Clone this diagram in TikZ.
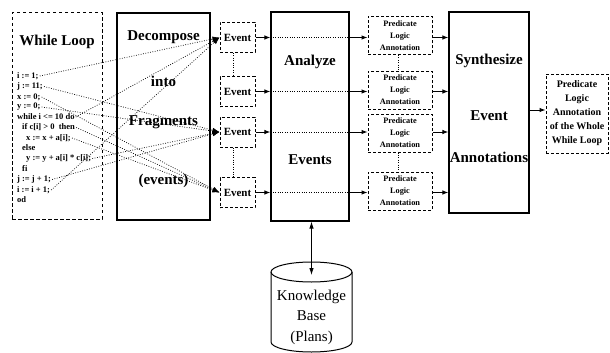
\documentclass[tikz,border=0pt]{standalone}
\usepackage{fontspec}
\setmainfont{Liberation Serif}
\usetikzlibrary{arrows.meta}
\begin{document}
\begin{tikzpicture}[x=1pt,y=-1pt,
  solidbox/.style={draw, line width=1.1pt, inner sep=0pt},
  dashbox/.style={draw, line width=1pt, dash pattern=on 3pt off 2pt, inner sep=0pt},
  biglabel/.style={font=\fontsize{15}{18}\selectfont\bfseries, inner sep=0pt},
  evbox/.style={dashbox, minimum width=35pt, minimum height=30pt, font=\fontsize{11}{13}\selectfont\bfseries},
  predbox/.style={dashbox, minimum width=64pt, minimum height=38pt, align=center, font=\fontsize{8.3}{12}\selectfont\bfseries},
  code/.style={anchor=west, inner sep=1pt, font=\fontsize{8.5}{10}\selectfont\bfseries},
  dotline/.style={line width=0.7pt, dash pattern=on 0.8pt off 1.6pt},
  dotarrow/.style={dotline, -{Latex[length=7pt,width=5pt]}},
  solidarrow/.style={line width=1pt, -{Latex[length=6pt,width=4.5pt]}},
  kbarrow/.style={line width=0.8pt, {Latex[length=7pt,width=4.5pt]}-{Latex[length=7pt,width=4.5pt]}}
]
\useasboundingbox (0,0) rectangle (610,353);

% main stage boxes
\node[dashbox, dash pattern=on 3.5pt off 2.5pt, minimum width=90pt, minimum height=206pt] (wl) at (57,116) {};
\node[solidbox, minimum width=93pt, minimum height=207pt] (dec) at (163.5,116.5) {};
\node[solidbox, minimum width=78pt, minimum height=209pt] (ana) at (310,116.5) {};
\node[solidbox, minimum width=80pt, minimum height=201pt] (syn) at (489,112.5) {};

% stage labels
\node[biglabel] (wlt) at (57,42) {While Loop};
\node[biglabel] (dl1) at (163.5,37) {Decompose};
\node[biglabel] (dl2) at (163.5,81) {into};
\node[biglabel] (dl3) at (163.5,122) {Fragments};
\node[biglabel] (dl4) at (163.5,181) {(events)};
\node[biglabel] (al1) at (310,62) {Analyze};
\node[biglabel] (al2) at (310,160) {Events};
\node[biglabel] (sl1) at (489,61) {Synthesize};
\node[biglabel] (sl2) at (489,116) {Event};
\node[biglabel] (sl3) at (489,157) {Annotations};

% program text
\node[code] (c1)  at (16,76)    {i := 1;};
\node[code] (c2)  at (16,86.5)  {j := 11;};
\node[code] (c3)  at (16,97)    {x := 0;};
\node[code] (c4)  at (16,107)   {y := 0;};
\node[code] (c5)  at (16,117)   {while i <= 10 do};
\node[code] (c6)  at (21,127.5) {if c[i] > 0 \ then};
\node[code] (c7)  at (25,138)   {x := x + a[i];};
\node[code] (c8)  at (21,148)   {else};
\node[code] (c9)  at (25,158.5) {y := y + a[i] * c[i];};
\node[code] (c10) at (21,169)   {fi};
\node[code] (c11) at (16,179.5) {j := j + 1;};
\node[code] (c12) at (16,190)   {i := i + 1;};
\node[code] (c13) at (16,200)   {od};

% event fragments
\node[evbox] (ev1) at (237.5,37.5) {Event};
\node[evbox] (ev2) at (237.5,91.5) {Event};
\node[evbox] (ev3) at (237.5,132)  {Event};
\node[evbox] (ev4) at (237.5,192.5) {Event};

% event annotations
\node[predbox] (pred1) at (400,35.5) {Predicate\\Logic\\Annotation};
\node[predbox] (pred2) at (400,90)   {Predicate\\Logic\\Annotation};
\node[predbox] (pred3) at (400,133)  {Predicate\\Logic\\Annotation};
\node[predbox] (pred4) at (400,191)  {Predicate\\Logic\\Annotation};

% result
\node[dashbox, minimum width=62pt, minimum height=79pt, align=center,
      font=\fontsize{10}{14}\selectfont\bfseries] (fin) at (577,113.5)
      {Predicate\\Logic\\Annotation\\of the Whole\\While Loop};

% statements to events
\draw[dotarrow] (c1.east)  -- (ev1.west);
\draw[dotarrow] (c5.east)  -- (ev1.west);
\draw[dotarrow] (c12.east) -- (ev1.west);
\draw[dotarrow] (c2.east)  -- (ev3.west);
\draw[dotarrow] (c4.east)  -- (ev3.west);
\draw[dotarrow] (c9.east)  -- (ev3.west);
\draw[dotarrow] (c11.east) -- (ev3.west);
\draw[dotarrow] (c3.east)  -- (ev4.west);
\draw[dotarrow] (c6.east)  -- (ev4.west);
\draw[dotarrow] (c7.east)  -- (ev4.west);

% links between neighbouring fragments
\draw[dotline] ([xshift=-4.5pt]ev1.south) -- ([xshift=-4.5pt]ev2.north);
\draw[dotline] ([xshift=-4.5pt]ev3.south) -- ([xshift=-4.5pt]ev4.north);
\draw[dotline] ([xshift=-2pt]pred1.south) -- ([xshift=-2pt]pred2.north);
\draw[dotline] ([xshift=-2pt]pred3.south) -- ([xshift=-2pt]pred4.north);

% events through analysis to annotations
\foreach \e/\p in {ev1/pred1, ev2/pred2, ev3/pred3, ev4/pred4} {
  \draw[solidarrow] (\e.east) -- (\e.east -| ana.west);
  \draw[dotline] (\e.east -| ana.west) -- (\e.east -| ana.east);
  \draw[solidarrow] (\e.east -| ana.east) -- (\e.east -| \p.west);
  \draw[solidarrow] (\p.east |- \e.east) -- (\e.east -| syn.west);
}
\draw[solidarrow] (syn.east |- 0,110) -- (fin.west |- 0,110);

% knowledge base
\coordinate (kbtop) at (311.5,272);
\draw[line width=1pt] (kbtop) ellipse [x radius=40.5pt, y radius=10pt];
\draw[line width=1pt] (271,272) -- (271,342)
  arc[start angle=180, end angle=360, x radius=40.5pt, y radius=10pt] -- (352,272);
\node[align=center, inner sep=0pt, font=\fontsize{15}{20.5}\selectfont] (kb) at (311.5,317)
  {Knowledge\\Base\\(Plans)};
\draw[kbarrow] (ana.south -| kbtop) -- ([yshift=-3pt]kbtop);
\end{tikzpicture}
\end{document}
